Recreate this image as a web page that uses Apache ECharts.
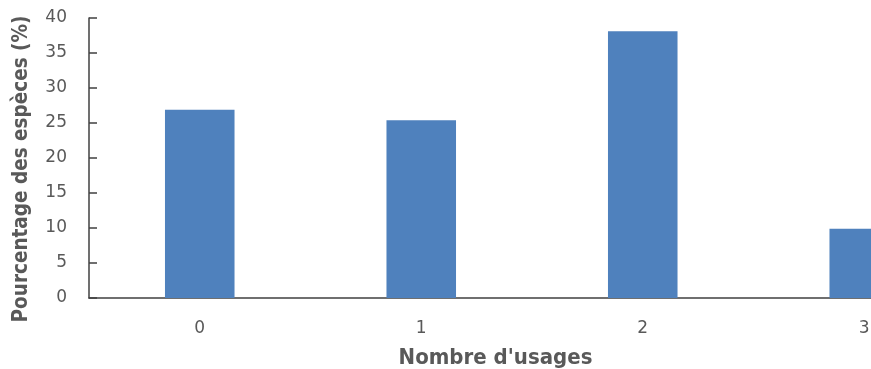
<!DOCTYPE html>
<html>
<head>
<meta charset="utf-8">
<script src="https://cdn.jsdelivr.net/npm/echarts@6/dist/echarts.min.js"></script>
<style>
  html, body { margin: 0; padding: 0; background: #fff; }
  #chart { width: 871px; height: 369px; }
</style>
</head>
<body>
<div id="chart"></div>
<script>
// Number of uses per species and share of species (%)
const categories = ['0', '1', '2', '3'];
const percentValues = [26.9, 25.4, 38.1, 9.9];
const yTicks = { min: 0, max: 40, interval: 5 };
const xTitle = "Nombre d'usages";
const yTitle = 'Pourcentage des espèces (%)';

const chart = echarts.init(document.getElementById('chart'), null, { renderer: 'canvas' });

const titleFamily = '"DejaVu Sans Condensed", "DejaVu Sans", sans-serif';
const tickFont = {
  color: '#595959',
  fontFamily: '"DejaVu Sans", sans-serif',
  fontSize: 17
};

// The plot area runs past the right edge, so the last bar is clipped.
chart.setOption({
  animation: false,
  backgroundColor: '#ffffff',
  grid: {
    left: 89, top: 18, height: 280, width: 886,
    containLabel: false, outerBoundsMode: 'none'
  },
  xAxis: {
    type: 'category',
    data: categories,
    name: xTitle,
    nameLocation: 'middle',
    nameGap: 49,
    nameTextStyle: {
      color: '#595959', fontFamily: titleFamily, fontWeight: 'bold', fontSize: 22,
      padding: [0, 73, 0, 0]
    },
    axisLine: { show: true, lineStyle: { color: '#404040', width: 1.5 } },
    axisTick: { show: false },
    axisLabel: Object.assign({ margin: 22 }, tickFont),
    splitLine: { show: false }
  },
  yAxis: {
    type: 'value',
    min: yTicks.min,
    max: yTicks.max,
    interval: yTicks.interval,
    name: yTitle,
    nameLocation: 'middle',
    nameGap: 57,
    nameTextStyle: {
      color: '#595959', fontFamily: titleFamily, fontWeight: 'bold', fontSize: 20.5,
      padding: [0, 22, 0, 0]
    },
    axisLine: { show: true, lineStyle: { color: '#404040', width: 1.5 } },
    axisTick: { show: true, inside: true, length: 8, lineStyle: { color: '#404040', width: 1.5 } },
    axisLabel: Object.assign({ margin: 22 }, tickFont),
    splitLine: { show: false }
  },
  series: [{
    type: 'bar',
    data: percentValues,
    barWidth: '31.4%',
    itemStyle: { color: '#4f81bd' },
    emphasis: { disabled: true }
  }]
});
</script>
</body>
</html>
